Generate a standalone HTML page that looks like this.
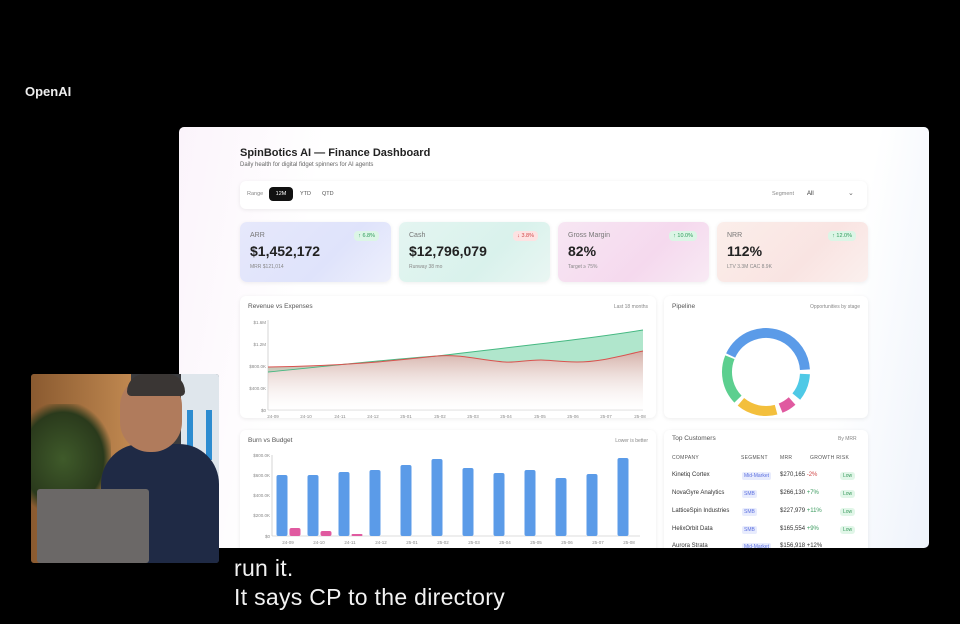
<!DOCTYPE html>
<html><head><meta charset="utf-8"><style>
*{margin:0;padding:0;box-sizing:border-box}
body{width:960px;height:624px;background:#000;position:relative;overflow:hidden;font-family:"Liberation Sans",sans-serif}
.a{position:absolute}
.dash{left:179px;top:127px;width:750px;height:421px;background:linear-gradient(100deg,#fbf4fb 0%,#fff 18%,#fff 85%,#eef3fb 100%);border-radius:5px;overflow:hidden}
.card{position:absolute;background:#fff;border-radius:6px;box-shadow:0 1px 4px rgba(0,0,0,.08)}
.t{position:absolute;white-space:nowrap}
.kpi{position:absolute;top:95px;width:151px;height:60px;border-radius:7px;box-shadow:0 1px 4px rgba(0,0,0,.07)}
.kpi .l{position:absolute;left:10px;top:10px;font-size:7px;color:#777}
.kpi .v{position:absolute;left:10px;top:21px;font-size:14px;font-weight:bold;color:#222}
.kpi .s{position:absolute;left:10px;top:42px;font-size:5px;color:#888}
.kpi .b{position:absolute;right:12px;top:9px;font-size:5.5px;padding:2px 4px;border-radius:4px}
.g{background:#dcf5e6;color:#2e9a5a}.r{background:#fde2e2;color:#d04848}
.tb{font-size:6px;color:#333}
.seg{font-size:5px;color:#5b6fe0;background:#e8ecfd;padding:1px 2px;border-radius:2px}
.low{font-size:5px;color:#3a9a5e;background:#e1f6e8;padding:1px 3px;border-radius:3px}
</style></head><body>
<div class="t" style="left:25px;top:84px;color:#eee;font-size:13px;font-weight:bold">OpenAI</div>
<div class="a dash">
 <div class="t" style="left:61px;top:20px;font-size:11px;font-weight:bold;color:#222">SpinBotics AI — Finance Dashboard</div>
 <div class="t" style="left:61px;top:35px;font-size:6px;color:#666">Daily health for digital fidget spinners for AI agents</div>
 <div class="card" style="left:61px;top:54px;width:627px;height:28px">
  <div class="t" style="left:7px;top:10px;font-size:5.5px;color:#888">Range</div>
  <div class="t" style="left:29px;top:6px;width:24px;height:14px;background:#111;border-radius:4px;color:#fff;font-size:5.5px;text-align:center;line-height:14px">12M</div>
  <div class="t" style="left:60px;top:10px;font-size:5.5px;color:#555">YTD</div>
  <div class="t" style="left:82px;top:10px;font-size:5.5px;color:#555">QTD</div>
  <div class="t" style="left:532px;top:10px;font-size:5.5px;color:#888">Segment</div>
  <div class="t" style="left:567px;top:10px;font-size:6px;color:#333">All</div>
  <div class="t" style="left:608px;top:8px;font-size:7px;color:#666">⌄</div>
 </div>
 <div class="kpi" style="left:61px;background:linear-gradient(135deg,#e6e8fb,#dfe3fb 60%,#eef0fc)"><div class="l">ARR</div><div class="v">$1,452,172</div><div class="s">MRR $121,014</div><div class="b g">↑ 6.8%</div></div>
 <div class="kpi" style="left:220px;background:linear-gradient(135deg,#e4f5f1,#d9f2ec 60%,#eaf6f3)"><div class="l">Cash</div><div class="v">$12,796,079</div><div class="s">Runway 38 mo</div><div class="b r">↓ 3.8%</div></div>
 <div class="kpi" style="left:379px;background:linear-gradient(135deg,#f7e6f3,#f5d9ee 60%,#f8eaf4)"><div class="l">Gross Margin</div><div class="v">82%</div><div class="s">Target ≥ 75%</div><div class="b g">↑ 10.0%</div></div>
 <div class="kpi" style="left:538px;background:linear-gradient(135deg,#fbeeea,#f9e4e2 60%,#fbf0ee)"><div class="l">NRR</div><div class="v">112%</div><div class="s">LTV 3.3M CAC 8.9K</div><div class="b g">↑ 12.0%</div></div>
 <div class="card" style="left:61px;top:169px;width:416px;height:122px"></div>
 <div class="card" style="left:485px;top:169px;width:204px;height:122px"></div>
 <div class="card" style="left:61px;top:303px;width:416px;height:130px"></div>
 <div class="card" style="left:485px;top:303px;width:204px;height:130px"></div>
</div>
<svg class="a" style="left:0;top:0" width="960" height="624" font-family="Liberation Sans, sans-serif">
 <defs><linearGradient id="rg" x1="0" y1="0" x2="0" y2="1"><stop offset="0" stop-color="#c99a90" stop-opacity=".8"/><stop offset="1" stop-color="#fff" stop-opacity=".2"/></linearGradient></defs>
 <text x="248" y="308" font-size="6.5" fill="#555">Revenue vs Expenses</text>
 <text x="648" y="308" font-size="5" fill="#888" text-anchor="end">Last 18 months</text>
 <g font-size="4.5" fill="#888" text-anchor="end"><text x="266" y="324">$1.6M</text><text x="266" y="346">$1.2M</text><text x="266" y="368">$800.0K</text><text x="266" y="390">$400.0K</text><text x="266" y="412">$0</text></g>
 <line x1="268" y1="320" x2="268" y2="410" stroke="#bbb" stroke-width=".6"/><line x1="268" y1="410" x2="643" y2="410" stroke="#bbb" stroke-width=".6"/>
 <path d="M268,372 C330,366 380,360 437,356 C520,346 580,340 643,330 L643,351 C620,356 600,362 577,362 C560,362 550,360 541,360 C525,360 515,363 505,362 C480,360 460,354 437,356 C400,360 350,366 268,367Z" fill="#8fdcb7" opacity=".7"/>
 <path d="M268,367 C350,366 400,360 437,356 C460,354 480,360 505,362 C515,363 525,360 541,360 C550,360 560,362 577,362 C600,362 620,356 643,351 L643,410 L268,410Z" fill="url(#rg)"/>
 <path d="M268,372 C330,366 380,360 437,356 C520,346 580,340 643,330" fill="none" stroke="#46b882" stroke-width="1"/>
 <path d="M268,367 C350,366 400,360 437,356 C460,354 480,360 505,362 C515,363 525,360 541,360 C550,360 560,362 577,362 C600,362 620,356 643,351" fill="none" stroke="#d9534f" stroke-width="1"/>
 <g font-size="4.5" fill="#888" text-anchor="middle"><text x="273" y="418">24-09</text><text x="306" y="418">24-10</text><text x="340" y="418">24-11</text><text x="373" y="418">24-12</text><text x="406" y="418">25-01</text><text x="440" y="418">25-02</text><text x="473" y="418">25-03</text><text x="506" y="418">25-04</text><text x="540" y="418">25-05</text><text x="573" y="418">25-06</text><text x="606" y="418">25-07</text><text x="640" y="418">25-08</text></g>
 <text x="672" y="308" font-size="6.5" fill="#555">Pipeline</text>
 <text x="860" y="308" font-size="5" fill="#888" text-anchor="end">Opportunities by stage</text>
 <g fill="none" stroke-width="10" transform="translate(766,372)">
  <circle r="39" stroke="#5b9be8" stroke-dasharray="103 300" transform="rotate(205)"/>
  <circle r="39" stroke="#4fc9e6" stroke-dasharray="24.5 300" transform="rotate(3)"/>
  <circle r="39" stroke="#e05aa0" stroke-dasharray="13.6 300" transform="rotate(48)"/>
  <circle r="39" stroke="#f3bf3c" stroke-dasharray="37.4 300" transform="rotate(75)"/>
  <circle r="39" stroke="#5ccf8f" stroke-dasharray="45 300" transform="rotate(136)"/>
 </g>
 <text x="248" y="442" font-size="6.5" fill="#555">Burn vs Budget</text>
 <text x="648" y="442" font-size="5" fill="#888" text-anchor="end">Lower is better</text>
 <g font-size="4.5" fill="#888" text-anchor="end"><text x="270" y="457">$800.0K</text><text x="270" y="477">$600.0K</text><text x="270" y="497">$400.0K</text><text x="270" y="517">$200.0K</text><text x="270" y="538">$0</text></g>
 <line x1="272" y1="455" x2="272" y2="536" stroke="#bbb" stroke-width=".6"/><line x1="272" y1="536" x2="640" y2="536" stroke="#bbb" stroke-width=".6"/>
 <g fill="#5b9be8">
  <rect x="276.5" y="475" width="11" height="61" rx="2"/><rect x="307.5" y="475" width="11" height="61" rx="2"/><rect x="338.5" y="472" width="11" height="64" rx="2"/><rect x="369.5" y="470" width="11" height="66" rx="2"/><rect x="400.5" y="465" width="11" height="71" rx="2"/><rect x="431.5" y="459" width="11" height="77" rx="2"/><rect x="462.5" y="468" width="11" height="68" rx="2"/><rect x="493.5" y="473" width="11" height="63" rx="2"/><rect x="524.5" y="470" width="11" height="66" rx="2"/><rect x="555.5" y="478" width="11" height="58" rx="2"/><rect x="586.5" y="474" width="11" height="62" rx="2"/><rect x="617.5" y="458" width="11" height="78" rx="2"/>
 </g>
 <g fill="#e05aa0"><rect x="289.5" y="528" width="11" height="8" rx="2"/><rect x="320.5" y="531" width="11" height="5" rx="2"/><rect x="351.5" y="534" width="11" height="2" rx="1"/></g>
 <g font-size="4.5" fill="#888" text-anchor="middle"><text x="288" y="544">24-09</text><text x="319" y="544">24-10</text><text x="350" y="544">24-11</text><text x="381" y="544">24-12</text><text x="412" y="544">25-01</text><text x="443" y="544">25-02</text><text x="474" y="544">25-03</text><text x="505" y="544">25-04</text><text x="536" y="544">25-05</text><text x="567" y="544">25-06</text><text x="598" y="544">25-07</text><text x="629" y="544">25-08</text></g>
</svg>
<div class="t" style="left:672px;top:435px;font-size:6.5px;color:#555">Top Customers</div>
<div class="t" style="left:838px;top:436px;font-size:5px;color:#888">By MRR</div>
<div class="t" style="left:672px;top:455px;font-size:5px;color:#555;letter-spacing:.3px">COMPANY</div>
<div class="t" style="left:741px;top:455px;font-size:5px;color:#555;letter-spacing:.3px">SEGMENT</div>
<div class="t" style="left:780px;top:455px;font-size:5px;color:#555;letter-spacing:.3px">MRR</div>
<div class="t" style="left:810px;top:455px;font-size:5px;color:#555;letter-spacing:.3px">GROWTH RISK</div>
<div class="t tb" style="left:672px;top:472px">Kinetiq Cortex</div><div class="t seg" style="left:742px;top:472px">Mid-Market</div><div class="t tb" style="left:780px;top:472px">$270,165 <span style="color:#d04848">-2%</span></div><div class="t low" style="left:840px;top:472px">Low</div>
<div class="t tb" style="left:672px;top:490px">NovaGyre Analytics</div><div class="t seg" style="left:742px;top:490px">SMB</div><div class="t tb" style="left:780px;top:490px">$266,130 <span style="color:#3a9a5e">+7%</span></div><div class="t low" style="left:840px;top:490px">Low</div>
<div class="t tb" style="left:672px;top:508px">LatticeSpin Industries</div><div class="t seg" style="left:742px;top:508px">SMB</div><div class="t tb" style="left:780px;top:508px">$227,979 <span style="color:#3a9a5e">+11%</span></div><div class="t low" style="left:840px;top:508px">Low</div>
<div class="t tb" style="left:672px;top:526px">HelixOrbit Data</div><div class="t seg" style="left:742px;top:526px">SMB</div><div class="t tb" style="left:780px;top:526px">$165,554 <span style="color:#3a9a5e">+9%</span></div><div class="t low" style="left:840px;top:526px">Low</div>
<div class="a" style="left:660px;top:542px;width:210px;height:6px;overflow:hidden"><div class="t tb" style="left:12px;top:1px">Aurora Strata</div><div class="t seg" style="left:82px;top:1px">Mid-Market</div><div class="t tb" style="left:120px;top:1px">$156,918 +12%</div></div>
<div class="a" style="left:31px;top:374px;width:188px;height:189px;border-radius:3px;overflow:hidden;background:#3a3b3e">
 <div class="a" style="left:0;top:0;width:100px;height:189px;background:linear-gradient(90deg,#8a5a30,#c08850)"></div>
 <div class="a" style="left:0;top:30px;width:80px;height:110px;background:radial-gradient(ellipse at 40% 50%,#3f5a2a,#2a3a1c 60%,transparent 75%)"></div>
 <div class="a" style="left:150px;top:0;width:38px;height:120px;background:#dfe6ec"></div>
 <div class="a" style="left:156px;top:36px;width:6px;height:50px;background:#2d8cd0"></div><div class="a" style="left:175px;top:36px;width:6px;height:50px;background:#2d8cd0"></div>
 <div class="a" style="left:70px;top:70px;width:118px;height:119px;border-radius:40px 40px 0 0;background:#1f2a45"></div>
 <div class="a" style="left:89px;top:2px;width:62px;height:76px;border-radius:30px;background:#b07b5c"></div>
 <div class="a" style="left:96px;top:0;width:58px;height:22px;border-radius:20px 20px 5px 5px;background:#3a3634"></div>
 <div class="a" style="left:6px;top:115px;width:112px;height:74px;border-radius:3px;background:#6b6867"></div>
</div>
<div class="t" style="left:234px;top:555px;font-size:23px;letter-spacing:.3px;color:#f2f2f2">run it.</div>
<div class="t" style="left:234px;top:584px;font-size:23px;letter-spacing:.3px;color:#f2f2f2">It says CP to the directory</div>
</body></html>
